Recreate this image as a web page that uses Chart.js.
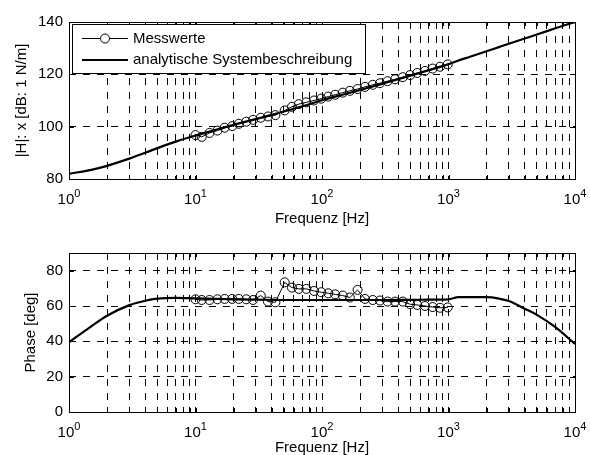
<!DOCTYPE html>
<html>
<head>
<meta charset="utf-8">
<script src="https://cdn.jsdelivr.net/npm/chart.js@4/dist/chart.umd.min.js"></script>
<style>
  body { margin: 0; background: #fff; }
  #wrap { position: relative; width: 590px; height: 455px; }
  canvas { position: absolute; left: 0; }
  #magChart { top: 0; }
  #phaseChart { top: 227px; }
</style>
</head>
<body>
<div id="wrap">
  <canvas id="magChart" width="590" height="227"></canvas>
  <canvas id="phaseChart" width="590" height="228"></canvas>
</div>
<script>
// Messwerte (measured)
const measFreq = [10, 11.2, 12.9, 14.9, 17, 19.5, 22, 25.2, 28.5, 32.8, 37.4, 42.8, 50.7, 57.9, 65.5, 75.2, 86.5, 98.6,
    112, 127, 146, 166, 191, 219, 252, 287, 330, 378, 435, 497, 566, 652, 750, 857, 986];
const measMag = [96.8, 96.1, 97.6, 98.5, 99.6, 100.2, 101.1, 101.9, 102.6, 103.4, 103.9, 104.4, 106.2, 107.6, 108.6, 109.3, 110.0, 110.7,
    111.5, 112.2, 113.0, 113.7, 114.4, 115.2, 116.0, 116.6, 117.4, 118.1, 118.9, 119.7, 120.5, 121.3, 122.2, 122.9, 123.8];
const measPhase = [63.8, 63.4, 63.4, 63.8, 64.0, 64.0, 64.0, 63.8, 63.4, 65.9, 62.5, 62.1, 73.4, 70.4, 69.7, 69.7, 68.5, 67.8,
    67.2, 66.6, 65.9, 64.8, 69.1, 64.0, 63.4, 63.1, 62.5, 62.5, 62.5, 61.0, 60.6, 60.0, 59.4, 59.0, 59.2];

// analytische Systembeschreibung
const modelFreq = [1, 1.5, 2, 3, 4, 5, 7, 10, 15, 20, 30, 50, 70, 100, 150, 200, 300, 500, 700, 1000,
    1200, 1500, 2000, 2500, 3000, 4000, 5000, 7000, 10000];
const modelMag = [82.0, 83.5, 85.0, 87.8, 90.0, 91.8, 94.3, 96.6, 99.0, 100.7, 102.9, 105.8, 107.8, 110.1, 112.4, 114.0, 116.4, 119.5, 121.6, 123.9,
    125.3, 126.8, 128.8, 130.4, 131.7, 133.7, 135.2, 137.6, 140.0];
const modelPhase = [39.5, 48.5, 54.5, 60.5, 63.0, 64.2, 64.6, 64.3, 64.0, 63.8, 63.6, 63.4, 63.4, 63.4, 63.4, 63.4, 63.4, 63.5, 63.6, 63.8,
    65.0, 65.0, 65.0, 64.2, 62.8, 58.5, 55.0, 48.0, 38.5];

// ticks
const freqGrid = [1, 2, 3, 4, 5, 6, 7, 8, 9, 10, 20, 30, 40, 50, 60, 70, 80, 90,
    100, 200, 300, 400, 500, 600, 700, 800, 900, 1000, 2000, 3000, 4000, 5000, 6000, 7000, 8000, 9000, 10000];
const decadeValues = [1, 10, 100, 1000, 10000];
const decadeExp = ['0', '1', '2', '3', '4'];
const magTicks = [80, 100, 120, 140];
const phaseTicks = [0, 20, 40, 60, 80];

const FONT = '"Liberation Sans", Arial, sans-serif';

function toPoints(xs, ys) {
    return xs.map((x, i) => ({x: x, y: ys[i]}));
}

// box, inner tick marks and 10^n labels like matlab
const framePlugin = {
    id: 'frame',
    afterDraw(chart) {
        const ctx = chart.ctx;
        const a = chart.chartArea;
        const xs = chart.scales.x;
        const ys = chart.scales.y;
        ctx.save();
        ctx.setLineDash([]);
        ctx.strokeStyle = '#000';
        ctx.lineWidth = 1;
        ctx.strokeRect(Math.round(a.left) + 0.5, Math.round(a.top) + 0.5,
            Math.round(a.right) - Math.round(a.left), Math.round(a.bottom) - Math.round(a.top));
        ctx.beginPath();
        xs.ticks.forEach(t => {
            const px = Math.round(xs.getPixelForValue(t.value)) + 0.5;
            ctx.moveTo(px, a.top); ctx.lineTo(px, a.top + 4);
            ctx.moveTo(px, a.bottom); ctx.lineTo(px, a.bottom - 4);
        });
        ys.ticks.forEach(t => {
            const py = Math.round(ys.getPixelForValue(t.value)) + 0.5;
            ctx.moveTo(a.left, py); ctx.lineTo(a.left + 5, py);
            ctx.moveTo(a.right, py); ctx.lineTo(a.right - 5, py);
        });
        ctx.stroke();

        ctx.fillStyle = '#000';
        ctx.textBaseline = 'alphabetic';
        ctx.textAlign = 'left';
        const base = a.bottom + 25;
        decadeValues.forEach((v, i) => {
            const px = xs.getPixelForValue(v);
            ctx.font = '15px ' + FONT;
            const w1 = ctx.measureText('10').width;
            ctx.font = '11px ' + FONT;
            const w2 = ctx.measureText(decadeExp[i]).width;
            const x0 = px - (w1 + w2) / 2;
            ctx.font = '15px ' + FONT;
            ctx.fillText('10', x0, base);
            ctx.font = '11px ' + FONT;
            ctx.fillText(decadeExp[i], x0 + w1, base - 7.5);
        });
        ctx.restore();
    }
};

const legendPlugin = {
    id: 'boxLegend',
    afterDraw(chart) {
        const ctx = chart.ctx;
        const ds = chart.data.datasets;
        ctx.save();
        ctx.setLineDash([]);
        ctx.fillStyle = '#fff';
        ctx.fillRect(72, 24, 293, 49);
        ctx.strokeStyle = '#000';
        ctx.lineWidth = 1;
        ctx.strokeRect(72.5, 24.5, 293, 49);

        // Messwerte
        ctx.beginPath();
        ctx.lineWidth = 1;
        ctx.moveTo(82, 38.5); ctx.lineTo(128, 38.5);
        ctx.stroke();
        ctx.beginPath();
        ctx.fillStyle = '#fff';
        ctx.arc(105, 38.5, 4.5, 0, Math.PI * 2);
        ctx.fill();
        ctx.stroke();
        // analytisch
        ctx.beginPath();
        ctx.lineWidth = 2.2;
        ctx.moveTo(82, 60); ctx.lineTo(128, 60);
        ctx.stroke();

        ctx.fillStyle = '#000';
        ctx.font = '15px ' + FONT;
        ctx.textBaseline = 'middle';
        ctx.textAlign = 'left';
        ctx.fillText(ds[0].label, 133, 38.5);
        ctx.fillText(ds[1].label, 133, 60);
        ctx.restore();
    }
};

function makeChart(elementId, measY, modelY, yTicks, yMin, yMax, yTitle, yTitlePad, xHeight, xTitlePad, topPad, plugins) {
    const ctx = document.getElementById(elementId).getContext('2d');
    const gridOpts = {color: '#000', lineWidth: 1, drawTicks: false};
    const config = {
        type: 'line',
        data: {
            datasets: [{
                label: 'Messwerte',
                data: toPoints(measFreq, measY),
                borderColor: '#000',
                borderWidth: 1,
                pointRadius: 4.5,
                pointBorderWidth: 1,
                pointBorderColor: '#000',
                pointBackgroundColor: 'rgba(0,0,0,0)',
                fill: false,
                tension: 0
            }, {
                label: 'analytische Systembeschreibung',
                data: toPoints(modelFreq, modelY),
                borderColor: '#000',
                borderWidth: 2.2,
                pointRadius: 0,
                fill: false,
                cubicInterpolationMode: 'monotone'
            }]
        },
        options: {
            responsive: false,
            animation: false,
            devicePixelRatio: 1,
            layout: {padding: {left: 0, right: 15, top: topPad, bottom: 0}},
            plugins: {
                legend: {display: false},
                tooltip: {enabled: false}
            },
            scales: {
                x: {
                    type: 'logarithmic',
                    min: 1,
                    max: 10000,
                    afterBuildTicks: s => { s.ticks = freqGrid.map(v => ({value: v})); },
                    afterFit: s => { s.height = xHeight; },
                    ticks: {display: false},
                    grid: gridOpts,
                    border: {display: false, dash: [7, 7]},
                    title: {
                        display: true,
                        text: 'Frequenz [Hz]',
                        color: '#000',
                        font: {family: FONT, size: 15},
                        padding: {top: 0, bottom: xTitlePad}
                    }
                },
                y: {
                    type: 'linear',
                    min: yMin,
                    max: yMax,
                    afterBuildTicks: s => { s.ticks = yTicks.map(v => ({value: v})); },
                    afterFit: s => { s.width = 69; },
                    ticks: {color: '#000', font: {family: FONT, size: 15}, padding: 6},
                    grid: gridOpts,
                    border: {display: false, dash: [7, 7]},
                    title: {
                        display: true,
                        text: yTitle,
                        color: '#000',
                        font: {family: FONT, size: 15},
                        padding: {top: yTitlePad, bottom: 0}
                    }
                }
            }
        },
        plugins: plugins
    };
    return new Chart(ctx, config);
}

makeChart('magChart', measMag, modelMag, magTicks, 80, 140, '|H|: x [dB: 1 N/m]', 13, 48, -1, 22, [framePlugin, legendPlugin]);
makeChart('phaseChart', measPhase, modelPhase, phaseTicks, 0, 90, 'Phase [deg]', 22, 43, -2, 26, [framePlugin]);
</script>
</body>
</html>
